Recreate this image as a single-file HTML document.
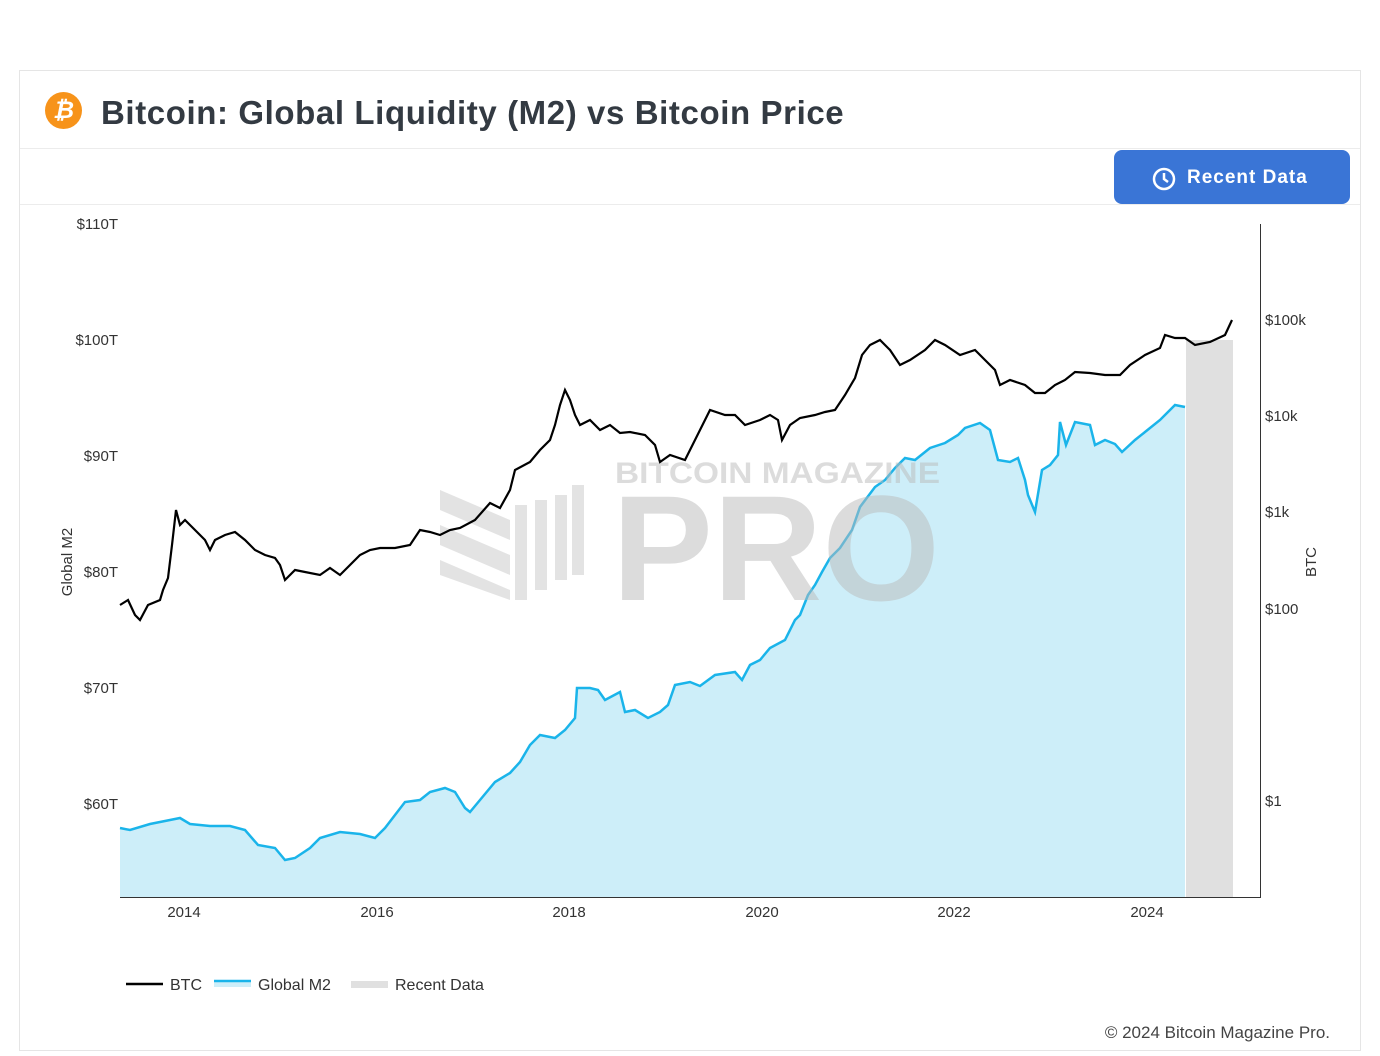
<!DOCTYPE html>
<html><head><meta charset="utf-8"><style>
body{margin:0;width:1380px;height:1056px;background:#fff;font-family:"Liberation Sans",sans-serif;position:relative;overflow:hidden}
.card{position:absolute;left:19px;top:70px;width:1340px;height:979px;border:1px solid #e5e5e5}
</style></head><body>
<div class="card"></div>
<div style="position:absolute;left:20px;top:148px;width:1340px;height:1px;background:#ececec"></div>
<div style="position:absolute;left:20px;top:204px;width:1340px;height:1px;background:#ececec"></div>
<div style="position:absolute;left:45px;top:92px;width:37px;height:37px;border-radius:50%;background:#f7931a;color:#fff;font-weight:bold;font-size:24px;text-align:center;line-height:37px;font-style:italic">₿</div>
<div style="position:absolute;left:101px;top:94px;font-size:33px;font-weight:bold;color:#333a42;letter-spacing:0.6px">Bitcoin: Global Liquidity (M2) vs Bitcoin Price</div>
<div style="position:absolute;left:1114px;top:150px;width:236px;height:54px;border-radius:8px;background:#3a75d6;color:#fff;font-weight:bold;font-size:19px;letter-spacing:1px;line-height:56px">
<svg style="position:absolute;left:38px;top:17px" width="24" height="24"><circle cx="12" cy="12" r="10" fill="none" stroke="#fff" stroke-width="2.5"/><path d="M12 6v6l4 3" fill="none" stroke="#fff" stroke-width="2.5"/></svg>
<span style="position:absolute;left:73px">Recent Data</span></div>
<svg style="position:absolute;left:0;top:0" width="1380" height="1056">
<g font-size="15" fill="#333" font-family="Liberation Sans">
<text x="118" y="229" text-anchor="end">$110T</text><text x="118" y="345" text-anchor="end">$100T</text><text x="118" y="461" text-anchor="end">$90T</text><text x="118" y="577" text-anchor="end">$80T</text><text x="118" y="693" text-anchor="end">$70T</text><text x="118" y="809" text-anchor="end">$60T</text>
<text x="1265" y="325">$100k</text><text x="1265" y="421">$10k</text><text x="1265" y="517">$1k</text><text x="1265" y="614">$100</text><text x="1265" y="806">$1</text>
<text x="184" y="917" text-anchor="middle">2014</text><text x="377" y="917" text-anchor="middle">2016</text><text x="569" y="917" text-anchor="middle">2018</text><text x="762" y="917" text-anchor="middle">2020</text><text x="954" y="917" text-anchor="middle">2022</text><text x="1147" y="917" text-anchor="middle">2024</text>
<text transform="translate(72,562) rotate(-90)" text-anchor="middle">Global M2</text>
<text transform="translate(1316,562) rotate(-90)" text-anchor="middle">BTC</text>
</g>
<rect x="1186" y="340" width="47" height="557" fill="#e0e0e0"/>
<polygon fill="#cdeef9" points="120,897 120,828 130,830 150,824 170,820 180,818 190,824 210,826 230,826 245,830 258,845 275,848 285,860 295,858 310,848 320,838 340,832 360,834 375,838 385,828 395,815 405,802 420,800 430,792 445,788 455,792 465,808 470,812 480,800 495,782 510,773 520,762 530,745 540,735 555,738 565,730 575,718 577,688 590,688 598,690 605,700 620,692 625,712 635,710 648,718 660,712 668,705 675,685 690,682 700,686 715,675 735,672 742,680 750,665 760,660 770,648 785,640 795,620 800,615 808,595 815,585 822,572 830,558 840,548 852,530 860,507 875,487 885,480 895,468 905,458 915,460 930,448 945,443 958,435 965,428 980,423 990,430 998,460 1010,462 1018,458 1025,480 1028,495 1035,512 1042,470 1050,465 1058,455 1060,422 1066,445 1075,422 1090,425 1095,445 1105,440 1115,444 1122,452 1135,440 1145,432 1160,420 1175,405 1185,407 1185,897"/>
<polyline fill="none" stroke="#1ab4ea" stroke-width="2.5" points="120,828 130,830 150,824 170,820 180,818 190,824 210,826 230,826 245,830 258,845 275,848 285,860 295,858 310,848 320,838 340,832 360,834 375,838 385,828 395,815 405,802 420,800 430,792 445,788 455,792 465,808 470,812 480,800 495,782 510,773 520,762 530,745 540,735 555,738 565,730 575,718 577,688 590,688 598,690 605,700 620,692 625,712 635,710 648,718 660,712 668,705 675,685 690,682 700,686 715,675 735,672 742,680 750,665 760,660 770,648 785,640 795,620 800,615 808,595 815,585 822,572 830,558 840,548 852,530 860,507 875,487 885,480 895,468 905,458 915,460 930,448 945,443 958,435 965,428 980,423 990,430 998,460 1010,462 1018,458 1025,480 1028,495 1035,512 1042,470 1050,465 1058,455 1060,422 1066,445 1075,422 1090,425 1095,445 1105,440 1115,444 1122,452 1135,440 1145,432 1160,420 1175,405 1185,407"/>
<g opacity="0.5" font-family="Liberation Sans" font-weight="bold" fill="#bbb">
<text x="615" y="483" font-size="30" textLength="325" lengthAdjust="spacingAndGlyphs">BITCOIN MAGAZINE</text>
<text x="612" y="600" font-size="150" textLength="328" lengthAdjust="spacingAndGlyphs">PRO</text>
<g fill="#c8c8c8"><polygon points="440,490 510,520 510,540 440,510"/><polygon points="440,525 510,555 510,575 440,545"/><polygon points="440,560 510,590 510,600 440,575"/><rect x="515" y="505" width="12" height="95"/><rect x="535" y="500" width="12" height="90"/><rect x="555" y="495" width="12" height="85"/><rect x="572" y="485" width="12" height="90"/></g>
</g>
<polyline fill="none" stroke="#000" stroke-width="2.2" points="120,605 128,600 135,615 140,620 148,605 160,600 163,590 168,578 172,545 176,510 180,525 185,520 195,530 205,540 210,550 215,540 225,535 235,532 245,540 255,550 265,555 275,558 280,565 285,580 295,570 305,572 320,575 330,568 340,575 350,565 360,555 370,550 380,548 395,548 410,545 420,530 430,532 440,535 450,530 460,528 475,520 490,503 500,508 510,490 515,470 530,462 540,450 550,440 555,425 560,405 565,390 570,400 575,415 580,425 590,420 600,430 610,425 620,433 630,432 645,435 655,445 660,462 670,455 685,460 695,440 700,430 710,410 725,415 735,415 745,425 760,420 770,415 778,420 782,440 790,425 800,418 815,415 825,412 835,410 845,395 855,378 862,355 870,345 880,340 890,350 900,365 910,360 925,350 935,340 945,345 960,355 975,350 985,360 995,370 1000,385 1010,380 1025,385 1035,393 1045,393 1055,385 1065,380 1075,372 1090,373 1105,375 1120,375 1130,365 1145,355 1160,348 1165,335 1175,338 1185,338 1195,345 1210,342 1225,335 1232,320"/>
<line x1="120" y1="897.5" x2="1260" y2="897.5" stroke="#333" stroke-width="1"/>
<line x1="1260.5" y1="224" x2="1260.5" y2="898" stroke="#333" stroke-width="1"/>
<line x1="126" y1="984" x2="163" y2="984" stroke="#000" stroke-width="2.5"/>
<rect x="214" y="981" width="37" height="6" fill="#cdeef9"/><line x1="214" y1="981" x2="251" y2="981" stroke="#1ab4ea" stroke-width="2.5"/>
<rect x="351" y="981" width="37" height="7" fill="#e0e0e0"/>
<g font-size="16" fill="#333" font-family="Liberation Sans"><text x="170" y="990">BTC</text><text x="258" y="990">Global M2</text><text x="395" y="990">Recent Data</text>
<text x="1330" y="1038" text-anchor="end" font-size="17" fill="#444">© 2024 Bitcoin Magazine Pro.</text></g>
</svg>
</body></html>
